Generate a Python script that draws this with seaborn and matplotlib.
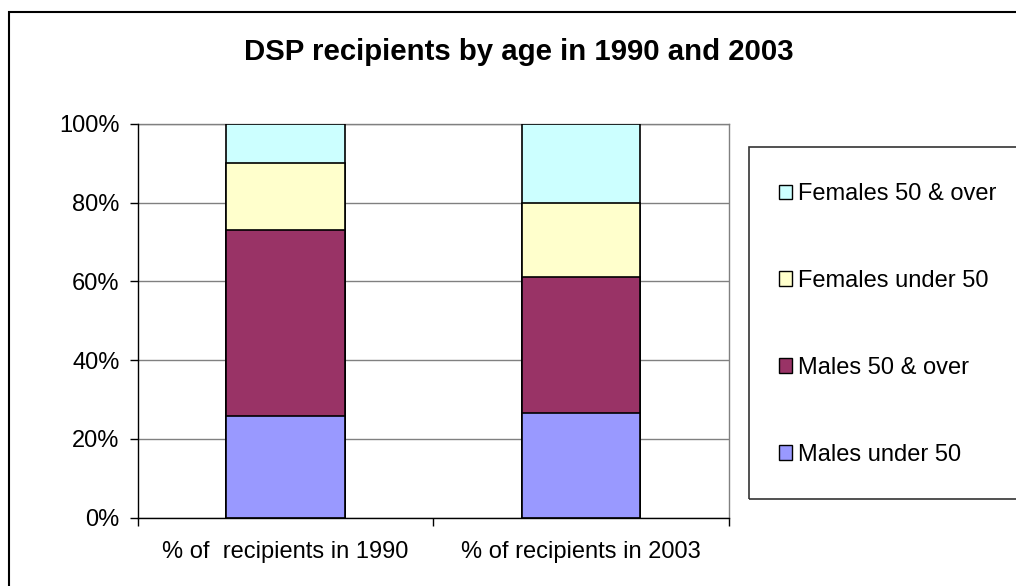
import numpy as np
import pandas as pd
import matplotlib
matplotlib.use("Agg")
import matplotlib.pyplot as plt
import seaborn as sns
from matplotlib.patches import Rectangle, Patch

# ---- data ----
categories = ["% of  recipients in 1990", "% of recipients in 2003"]
series_names = ["Males under 50", "Males 50 & over", "Females under 50", "Females 50 & over"]
males_under_50 = [25.8, 26.6]
males_50_over = [47.2, 34.6]
females_under_50 = [17.0, 18.7]
females_50_over = [10.0, 20.1]
series_colors = ["#9999FF", "#993366", "#FFFFCC", "#CCFFFF"]
y_ticks = [0, 20, 40, 60, 80, 100]
y_tick_labels = ["0%", "20%", "40%", "60%", "80%", "100%"]
title = "DSP recipients by age in 1990 and 2003"

sns.set_theme(style="white")
plt.rcParams["font.family"] = ["Liberation Sans", "DejaVu Sans"]
plt.rcParams["text.color"] = "black"
plt.rcParams["xtick.color"] = "black"
plt.rcParams["ytick.color"] = "black"

values = [males_under_50, males_50_over, females_under_50, females_50_over]
df = pd.DataFrame({
    "category": categories * len(series_names),
    "series": np.repeat(series_names, len(categories)),
    "value": np.concatenate(values),
})
df["cum"] = df.groupby("category")["value"].cumsum()

fig = plt.figure(figsize=(10.16, 5.86), dpi=100)
fig.patch.set_facecolor("white")
W, H = 1016, 586
ax = fig.add_axes([137.5 / W, 1 - 517.5 / H, (729 - 137.5) / W, (517.5 - 124) / H])

for name, color in zip(series_names[::-1], series_colors[::-1]):
    sub = df[df["series"] == name]
    sns.barplot(data=sub, x="category", y="cum", order=categories, color=color,
                saturation=1, width=0.4, edgecolor="black", linewidth=1.2, ax=ax,
                errorbar=None, zorder=3)

ax.set_xlim(-0.5, 1.5)
ax.set_ylim(0, 100)
ax.set_yticks(y_ticks)
ax.set_yticklabels(y_tick_labels)
ax.set_xlabel("")
ax.set_ylabel("")
ax.set_xticks([0, 1])
ax.set_xticklabels(categories)
ax.set_xticks([-0.5, 0.5, 1.5], minor=True)
ax.tick_params(axis="x", which="major", length=0, pad=17, labelsize=17, labelcolor="black")
ax.tick_params(axis="x", which="minor", length=6, width=1, direction="out", color="black", bottom=True)
ax.tick_params(axis="y", which="major", length=6, width=1, direction="out", color="black",
               pad=7, labelsize=17, left=True, labelcolor="black")
ax.yaxis.grid(True, color="#808080", linewidth=1)
ax.set_axisbelow(True)
for s in ["left", "bottom"]:
    ax.spines[s].set_color("black")
    ax.spines[s].set_linewidth(1)
    ax.spines[s].set_zorder(5)
for s in ["top", "right"]:
    ax.spines[s].set_color("#808080")
    ax.spines[s].set_linewidth(1)

# title
fig.text(519 / W, 1 - 52 / H, title, ha="center", va="center", fontsize=21.2,
         fontweight="bold", color="black")

# outer chart border
fig.patches.append(Rectangle((9 / W, -0.05), 1.1, 1 - 12 / H + 0.05, transform=fig.transFigure,
                             fill=False, edgecolor="black", linewidth=1.5))
# legend box
fig.patches.append(Rectangle((749 / W, 1 - 499 / H), 0.4, (499 - 147) / H, transform=fig.transFigure,
                             fill=False, edgecolor="#333333", linewidth=1.2))

handles = [Patch(facecolor=c, edgecolor="black", linewidth=1) for c in series_colors[::-1]]
fig.legend(handles, series_names[::-1], loc="upper left", bbox_to_anchor=(779 / W, 1 - 183 / H),
           frameon=False, fontsize=17, handlelength=0.55, handleheight=0.55, handletextpad=0.25,
           labelspacing=2.75, borderpad=0, borderaxespad=0, labelcolor="black")

fig.savefig("out.png", dpi=100)
